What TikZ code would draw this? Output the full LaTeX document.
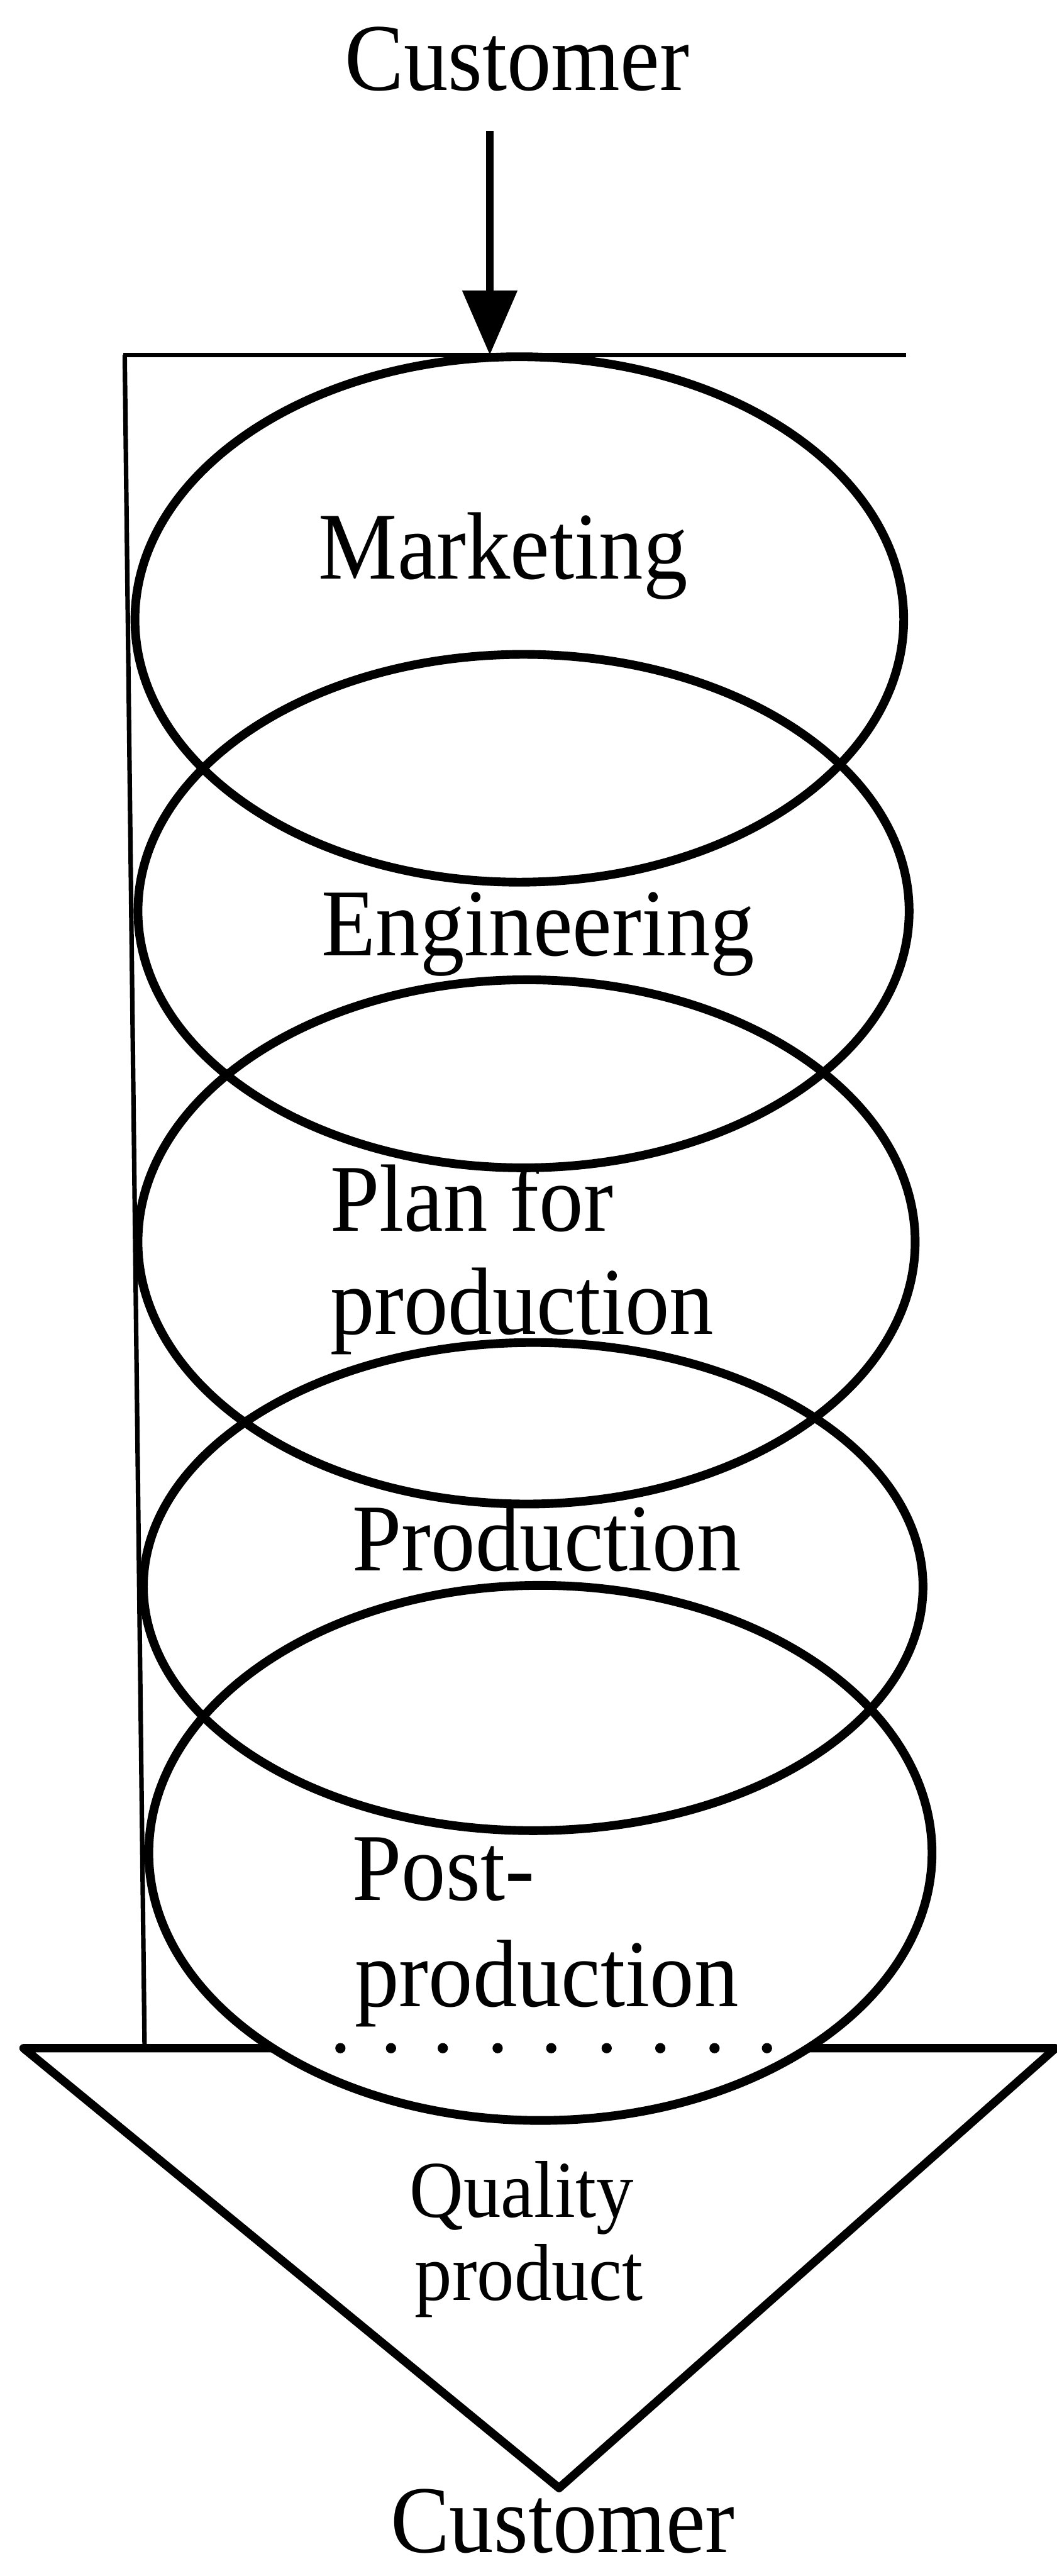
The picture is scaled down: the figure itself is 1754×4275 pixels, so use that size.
\documentclass[tikz,border=0pt]{standalone}
\usepackage{fontspec}
\setmainfont{Liberation Serif}
\usetikzlibrary{arrows.meta,shapes.geometric}
\newcommand{\tallify}[1]{\scalebox{1}[1.08]{#1}}
\tikzset{
  stage/.style={draw, ellipse, line width=2.9pt, inner sep=0pt, outer sep=0pt},
  lbl/.style={inner sep=0pt, outer sep=0pt, font=\fontsize{29.4pt}{35pt}\selectfont},
  smalllbl/.style={inner sep=0pt, outer sep=0pt, font=\fontsize{24.8pt}{30pt}\selectfont},
  thinline/.style={line width=1.5pt},
  thickline/.style={line width=2.8pt, line join=round},
  dotmark/.style={fill=black, draw=none, circle, minimum size=3.4pt, inner sep=0pt}
}
\begin{document}
\begin{tikzpicture}[x=0.2pt, y=-0.2pt]
\useasboundingbox (0,0) rectangle (1754,4275);
% ellipses
\node[stage, minimum width=1276*0.2pt, minimum height=872*0.2pt] (e1) at (862,1028) {};
\node[stage, minimum width=1280*0.2pt, minimum height=852*0.2pt] (e2) at (869,1512) {};
\node[stage, minimum width=1290*0.2pt, minimum height=870*0.2pt] (e3) at (874,2061) {};
\node[stage, minimum width=1294*0.2pt, minimum height=810*0.2pt] (e4) at (885,2633) {};
\node[stage, minimum width=1300*0.2pt, minimum height=888*0.2pt] (e5) at (897,3075) {};
% frame lines
\coordinate (tl) at (205,589);
\coordinate (tr) at (1504,589);
\coordinate (vl) at (207,589);
\coordinate (vb) at (240,3399);
\draw[thinline] (tl) -- (tr);
\draw[thinline] (vl) -- (vb);
% triangle
\coordinate (qa) at (39,3399);
\coordinate (qb) at (1752,3399);
\coordinate (qt) at (928,4129);
\coordinate (qi1) at (455,3399);
\coordinate (qi2) at (1340,3399);
\draw[thickline] (qi1) -- (qa) -- (qt) -- (qb) -- (qi2);
\foreach \i/\xx in {1/565,2/649,3/735,4/826,5/915,6/1007,7/1096,8/1186,9/1273}
  \node[dotmark] (d\i) at (\xx,3399) {};
% texts
\node[lbl, anchor=base] (c1) at (858,150) {\tallify{Customer}};
\node[lbl, anchor=base west] (t1) at (529,961) {\tallify{Marketing}};
\node[lbl, anchor=base west] (t2) at (534,1586) {\tallify{Engineering}};
\node[lbl, anchor=base west] (t3a) at (548,2043) {\tallify{Plan for}};
\node[lbl, anchor=base west] (t3b) at (548,2214) {\tallify{production}};
\node[lbl, anchor=base west] (t4) at (585,2607) {\tallify{Production}};
\node[lbl, anchor=base west] (t5a) at (585,3153) {\tallify{Post-}};
\node[lbl, anchor=base west] (t5b) at (589,3330) {\tallify{production}};
\node[smalllbl, anchor=base] (q1) at (866,3680) {\tallify{Quality}};
\node[smalllbl, anchor=base] (q2) at (878,3817) {\tallify{product}};
\node[lbl, anchor=base] (c2) at (934,4236) {\tallify{Customer}};
% arrow
\coordinate (as) at (813,217);
\coordinate (ae) at (813,589);
\draw[line width=2.4pt, -{Triangle[width=17.8pt, length=21.4pt]}] (as) -- (ae);
\end{tikzpicture}
\end{document}
